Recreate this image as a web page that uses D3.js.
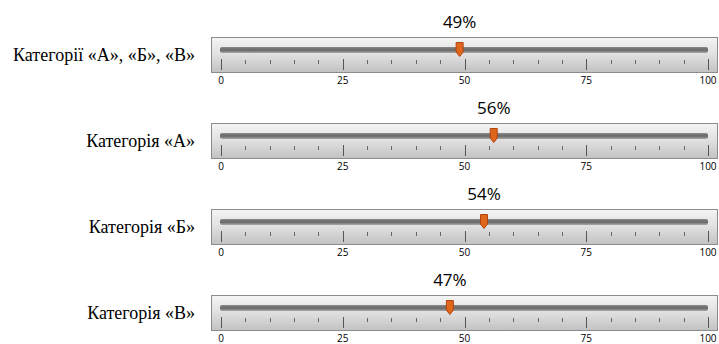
<!DOCTYPE html>
<html lang="uk">
<head>
<meta charset="UTF-8">
<title>Bullet gauges</title>
<script src="https://d3js.org/d3.v7.min.js"></script>
<style>
  body { margin: 0; background: #fff; }
  .cat { font-family: "Liberation Serif", "Times New Roman", serif; font-size: 18px; fill: #000; }
  .pct { font-family: "Open Sans", "Noto Sans", sans-serif; font-size: 17px; fill: #000; }
  .tick-lbl { font-family: "Open Sans", "Noto Sans", sans-serif; font-size: 10px; fill: #000; }
</style>
</head>
<body>
<svg width="719" height="344"></svg>
<script>
  // дані
  const categories = ["Категорії «А», «Б», «В»", "Категорія «А»", "Категорія «Б»", "Категорія «В»"];
  const values = [49, 56, 54, 47];
  const majorTicks = [0, 25, 50, 75, 100];
  const minorTicks = d3.range(5, 100, 5).filter(v => v % 25 !== 0);

  const svg = d3.select("svg");
  const defs = svg.append("defs");

  const g1 = defs.append("linearGradient").attr("id", "panelGrad").attr("x1", 0).attr("y1", 0).attr("x2", 0).attr("y2", 1);
  g1.append("stop").attr("offset", "0%").attr("stop-color", "#f4f4f4");
  g1.append("stop").attr("offset", "45%").attr("stop-color", "#e2e2e2");
  g1.append("stop").attr("offset", "100%").attr("stop-color", "#c2c2c2");

  const g2 = defs.append("linearGradient").attr("id", "trackGrad").attr("x1", 0).attr("y1", 0).attr("x2", 0).attr("y2", 1);
  g2.append("stop").attr("offset", "0%").attr("stop-color", "#8a8a8a");
  g2.append("stop").attr("offset", "50%").attr("stop-color", "#666");
  g2.append("stop").attr("offset", "100%").attr("stop-color", "#a8a8a8");

  const x = d3.scaleLinear().domain([0, 100]).range([221, 708]);
  const y = d3.scalePoint().domain(categories).range([37, 295]);

  const panelX = 211, panelW = 506, panelH = 35;

  const rows = svg.selectAll("g.row")
    .data(categories)
    .join("g")
    .attr("class", "row")
    .attr("transform", d => `translate(0,${y(d)})`);

  rows.append("rect")
    .attr("x", panelX + 0.5).attr("y", 0.5)
    .attr("width", panelW).attr("height", panelH)
    .attr("fill", "url(#panelGrad)")
    .attr("stroke", "#8c8c8c");

  rows.append("rect")
    .attr("x", x(0) - 1).attr("y", 10)
    .attr("width", x(100) - x(0) + 1).attr("height", 6)
    .attr("rx", 2)
    .attr("fill", "url(#trackGrad)");

  rows.selectAll("line.major")
    .data(majorTicks)
    .join("line")
    .attr("class", "major")
    .attr("x1", d => Math.round(x(d)) + 0.5).attr("x2", d => Math.round(x(d)) + 0.5)
    .attr("y1", 22).attr("y2", 33)
    .attr("stroke", "#555");

  rows.selectAll("line.minor")
    .data(minorTicks)
    .join("line")
    .attr("class", "minor")
    .attr("x1", d => Math.round(x(d)) + 0.5).attr("x2", d => Math.round(x(d)) + 0.5)
    .attr("y1", 23).attr("y2", 27)
    .attr("stroke", "#666");

  rows.selectAll("text.tick-lbl")
    .data(majorTicks)
    .join("text")
    .attr("class", "tick-lbl")
    .attr("x", d => x(d))
    .attr("y", 46.5)
    .attr("text-anchor", "middle")
    .text(d => d);

  rows.append("text")
    .attr("class", "cat")
    .attr("x", 195)
    .attr("y", 18)
    .attr("dy", "0.35em")
    .attr("text-anchor", "end")
    .text(d => d);

  rows.append("text")
    .attr("class", "pct")
    .attr("x", (d, i) => x(values[i]))
    .attr("y", -9)
    .attr("text-anchor", "middle")
    .text((d, i) => values[i] + "%");

  rows.append("path")
    .attr("transform", (d, i) => `translate(${x(values[i])},12)`)
    .attr("d", "M-3.5,-6.5 L3.5,-6.5 L3.5,3 L0,7.5 L-3.5,3 Z")
    .attr("fill", "#e0661c")
    .attr("stroke", "#b0440f")
    .attr("stroke-width", 1);
</script>
</body>
</html>
